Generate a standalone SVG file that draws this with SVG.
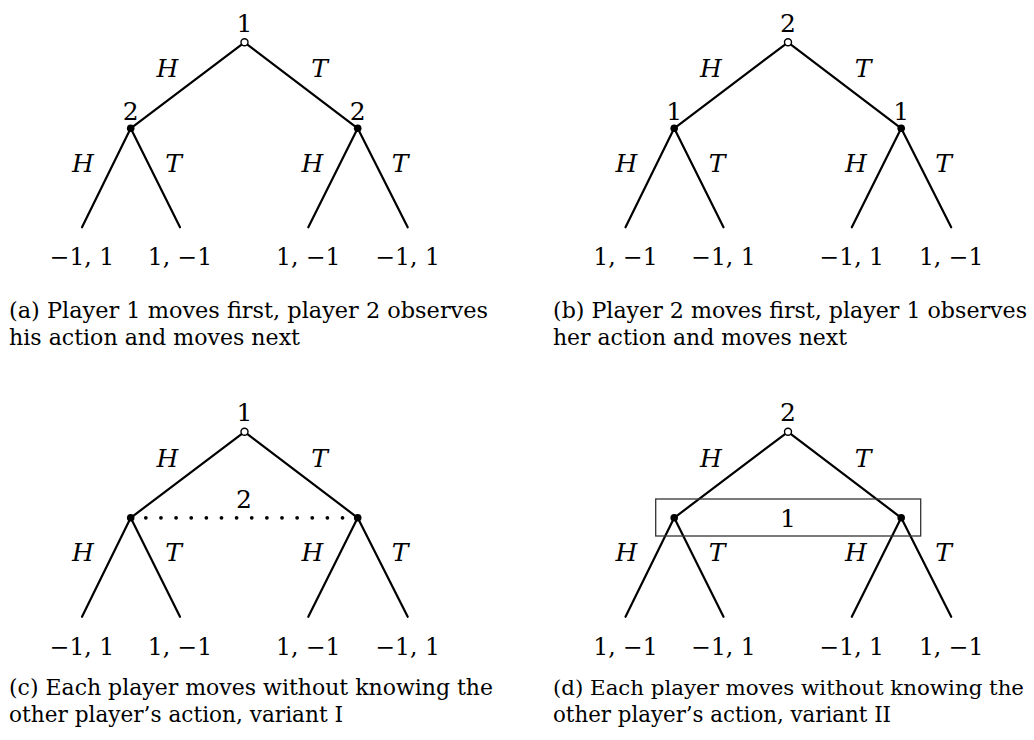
<svg xmlns="http://www.w3.org/2000/svg" width="1034" height="740" viewBox="0 0 1034 740">
<defs>
<style>
.e{stroke:#000;stroke-width:2.2;fill:none;stroke-linecap:round}
.dn{fill:#000}
.rn{fill:#fff;stroke:#000;stroke-width:1.4}
.num{font-family:"DejaVu Serif",serif;font-size:25px;fill:#000;text-anchor:middle}
.pay{font-family:"DejaVu Serif",serif;font-size:23.5px;fill:#000;text-anchor:middle}
.act{font-family:"DejaVu Serif",serif;font-style:italic;font-size:25px;fill:#000;text-anchor:middle}
.cap{font-family:"DejaVu Serif",serif;font-size:22px;fill:#000}
.capn{font-family:"DejaVu Serif",serif;font-size:19.5px;fill:#000}
.dots{stroke:#000;stroke-width:3.8;stroke-linecap:round;stroke-dasharray:0 15.13;fill:none}
.box{fill:none;stroke:#333;stroke-width:1.3}
</style>
</defs>
<rect width="1034" height="740" fill="#fff"/>

<!-- Panel (a) -->
<g id="panel-a">
<g id="a-edges">
<line class="e" x1="244.5" y1="42.3" x2="130.7" y2="128.3"/>
<line class="e" x1="244.5" y1="42.3" x2="357.7" y2="128.3"/>
<line class="e" x1="130.7" y1="128.3" x2="82" y2="227.3"/>
<line class="e" x1="130.7" y1="128.3" x2="180" y2="227.3"/>
<line class="e" x1="357.7" y1="128.3" x2="308.3" y2="227.3"/>
<line class="e" x1="357.7" y1="128.3" x2="407.7" y2="227.3"/>
</g>
<g id="a-root"><circle class="rn" cx="244.5" cy="42.3" r="3.5"/><text class="num" x="244.5" y="31.7">1</text></g>
<g id="a-n2L"><circle class="dn" cx="130.7" cy="128.3" r="3.8"/><text class="num" x="130.7" y="120">2</text></g>
<g id="a-n2R"><circle class="dn" cx="357.7" cy="128.3" r="3.8"/><text class="num" x="357.7" y="120">2</text></g>
<g id="a-labels">
<text class="act" x="167.5" y="77.3">H</text><text class="act" x="319.5" y="77.3">T</text>
<text class="act" x="83" y="171.7">H</text><text class="act" x="173.5" y="171.7">T</text>
<text class="act" x="312.5" y="171.7">H</text><text class="act" x="400" y="171.7">T</text>
</g>
<g id="a-leaves">
<text class="pay" x="82" y="265">−1, 1</text><text class="pay" x="180" y="265">1, −1</text>
<text class="pay" x="308.3" y="265">1, −1</text><text class="pay" x="407.7" y="265">−1, 1</text>
</g>
<text class="cap" x="9" y="317.5" textLength="479" lengthAdjust="spacingAndGlyphs">(a) Player 1 moves first, player 2 observes</text>
<text class="cap" x="9" y="345" textLength="291" lengthAdjust="spacingAndGlyphs">his action and moves next</text>
</g>

<!-- Panel (b) -->
<g id="panel-b" transform="translate(543.5,0)">
<g id="b-edges">
<line class="e" x1="244.5" y1="42.3" x2="130.7" y2="128.3"/>
<line class="e" x1="244.5" y1="42.3" x2="357.7" y2="128.3"/>
<line class="e" x1="130.7" y1="128.3" x2="82" y2="227.3"/>
<line class="e" x1="130.7" y1="128.3" x2="180" y2="227.3"/>
<line class="e" x1="357.7" y1="128.3" x2="308.3" y2="227.3"/>
<line class="e" x1="357.7" y1="128.3" x2="407.7" y2="227.3"/>
</g>
<g id="b-root"><circle class="rn" cx="244.5" cy="42.3" r="3.5"/><text class="num" x="244.5" y="31.7">2</text></g>
<g id="b-n1L"><circle class="dn" cx="130.7" cy="128.3" r="3.8"/><text class="num" x="130.7" y="120">1</text></g>
<g id="b-n1R"><circle class="dn" cx="357.7" cy="128.3" r="3.8"/><text class="num" x="357.7" y="120">1</text></g>
<g id="b-labels">
<text class="act" x="167.5" y="77.3">H</text><text class="act" x="319.5" y="77.3">T</text>
<text class="act" x="83" y="171.7">H</text><text class="act" x="173.5" y="171.7">T</text>
<text class="act" x="312.5" y="171.7">H</text><text class="act" x="400" y="171.7">T</text>
</g>
<g id="b-leaves">
<text class="pay" x="82" y="265">1, −1</text><text class="pay" x="180" y="265">−1, 1</text>
<text class="pay" x="308.3" y="265">−1, 1</text><text class="pay" x="407.7" y="265">1, −1</text>
</g>
<text class="cap" x="9.5" y="317.5" textLength="474" lengthAdjust="spacingAndGlyphs">(b) Player 2 moves first, player 1 observes</text>
<text class="cap" x="9.5" y="345" textLength="294" lengthAdjust="spacingAndGlyphs">her action and moves next</text>
</g>

<!-- Panel (c) -->
<g id="panel-c" transform="translate(0,389.5)">
<g id="c-edges">
<line class="e" x1="244.5" y1="42.3" x2="130.7" y2="128.3"/>
<line class="e" x1="244.5" y1="42.3" x2="357.7" y2="128.3"/>
<line class="e" x1="130.7" y1="128.3" x2="82" y2="227.3"/>
<line class="e" x1="130.7" y1="128.3" x2="180" y2="227.3"/>
<line class="e" x1="357.7" y1="128.3" x2="308.3" y2="227.3"/>
<line class="e" x1="357.7" y1="128.3" x2="407.7" y2="227.3"/>
</g>
<g id="c-info2"><line class="dots" x1="130.7" y1="128.3" x2="357.7" y2="128.3"/><text class="num" x="244" y="118.8">2</text></g>
<g id="c-root"><circle class="rn" cx="244.5" cy="42.3" r="3.5"/><text class="num" x="244.5" y="31.7">1</text></g>
<g id="c-nL"><circle class="dn" cx="130.7" cy="128.3" r="3.8"/></g>
<g id="c-nR"><circle class="dn" cx="357.7" cy="128.3" r="3.8"/></g>
<g id="c-labels">
<text class="act" x="167.5" y="77.3">H</text><text class="act" x="319.5" y="77.3">T</text>
<text class="act" x="83" y="171.7">H</text><text class="act" x="173.5" y="171.7">T</text>
<text class="act" x="312.5" y="171.7">H</text><text class="act" x="400" y="171.7">T</text>
</g>
<g id="c-leaves">
<text class="pay" x="82" y="265">−1, 1</text><text class="pay" x="180" y="265">1, −1</text>
<text class="pay" x="308.3" y="265">1, −1</text><text class="pay" x="407.7" y="265">−1, 1</text>
</g>
<text class="cap" x="9" y="305.5" textLength="484" lengthAdjust="spacingAndGlyphs">(c) Each player moves without knowing the</text>
<text class="cap" x="9" y="332.2" textLength="334" lengthAdjust="spacingAndGlyphs">other player’s action, variant I</text>
</g>

<!-- Panel (d) -->
<g id="panel-d" transform="translate(543.5,389.5)">
<g id="d-edges">
<line class="e" x1="244.5" y1="42.3" x2="130.7" y2="128.3"/>
<line class="e" x1="244.5" y1="42.3" x2="357.7" y2="128.3"/>
<line class="e" x1="130.7" y1="128.3" x2="82" y2="227.3"/>
<line class="e" x1="130.7" y1="128.3" x2="180" y2="227.3"/>
<line class="e" x1="357.7" y1="128.3" x2="308.3" y2="227.3"/>
<line class="e" x1="357.7" y1="128.3" x2="407.7" y2="227.3"/>
</g>
<g id="d-info1"><rect class="box" x="112.2" y="109.5" width="265" height="37"/><text class="num" x="244.5" y="137.2">1</text></g>
<g id="d-root"><circle class="rn" cx="244.5" cy="42.3" r="3.5"/><text class="num" x="244.5" y="31.7">2</text></g>
<g id="d-nL"><circle class="dn" cx="130.7" cy="128.3" r="3.8"/></g>
<g id="d-nR"><circle class="dn" cx="357.7" cy="128.3" r="3.8"/></g>
<g id="d-labels">
<text class="act" x="83" y="171.7">H</text><text class="act" x="173.5" y="171.7">T</text>
<text class="act" x="312.5" y="171.7">H</text><text class="act" x="400" y="171.7">T</text>
<text class="act" x="167.5" y="77.3">H</text><text class="act" x="319.5" y="77.3">T</text>
</g>
<g id="d-leaves">
<text class="pay" x="82" y="265">1, −1</text><text class="pay" x="180" y="265">−1, 1</text>
<text class="pay" x="308.3" y="265">−1, 1</text><text class="pay" x="407.7" y="265">1, −1</text>
</g>
<text class="capn" x="9.5" y="305.5" textLength="471" lengthAdjust="spacingAndGlyphs">(d) Each player moves without knowing the</text>
<text class="cap" x="9.5" y="332.2" textLength="338" lengthAdjust="spacingAndGlyphs">other player’s action, variant II</text>
</g>
</svg>
